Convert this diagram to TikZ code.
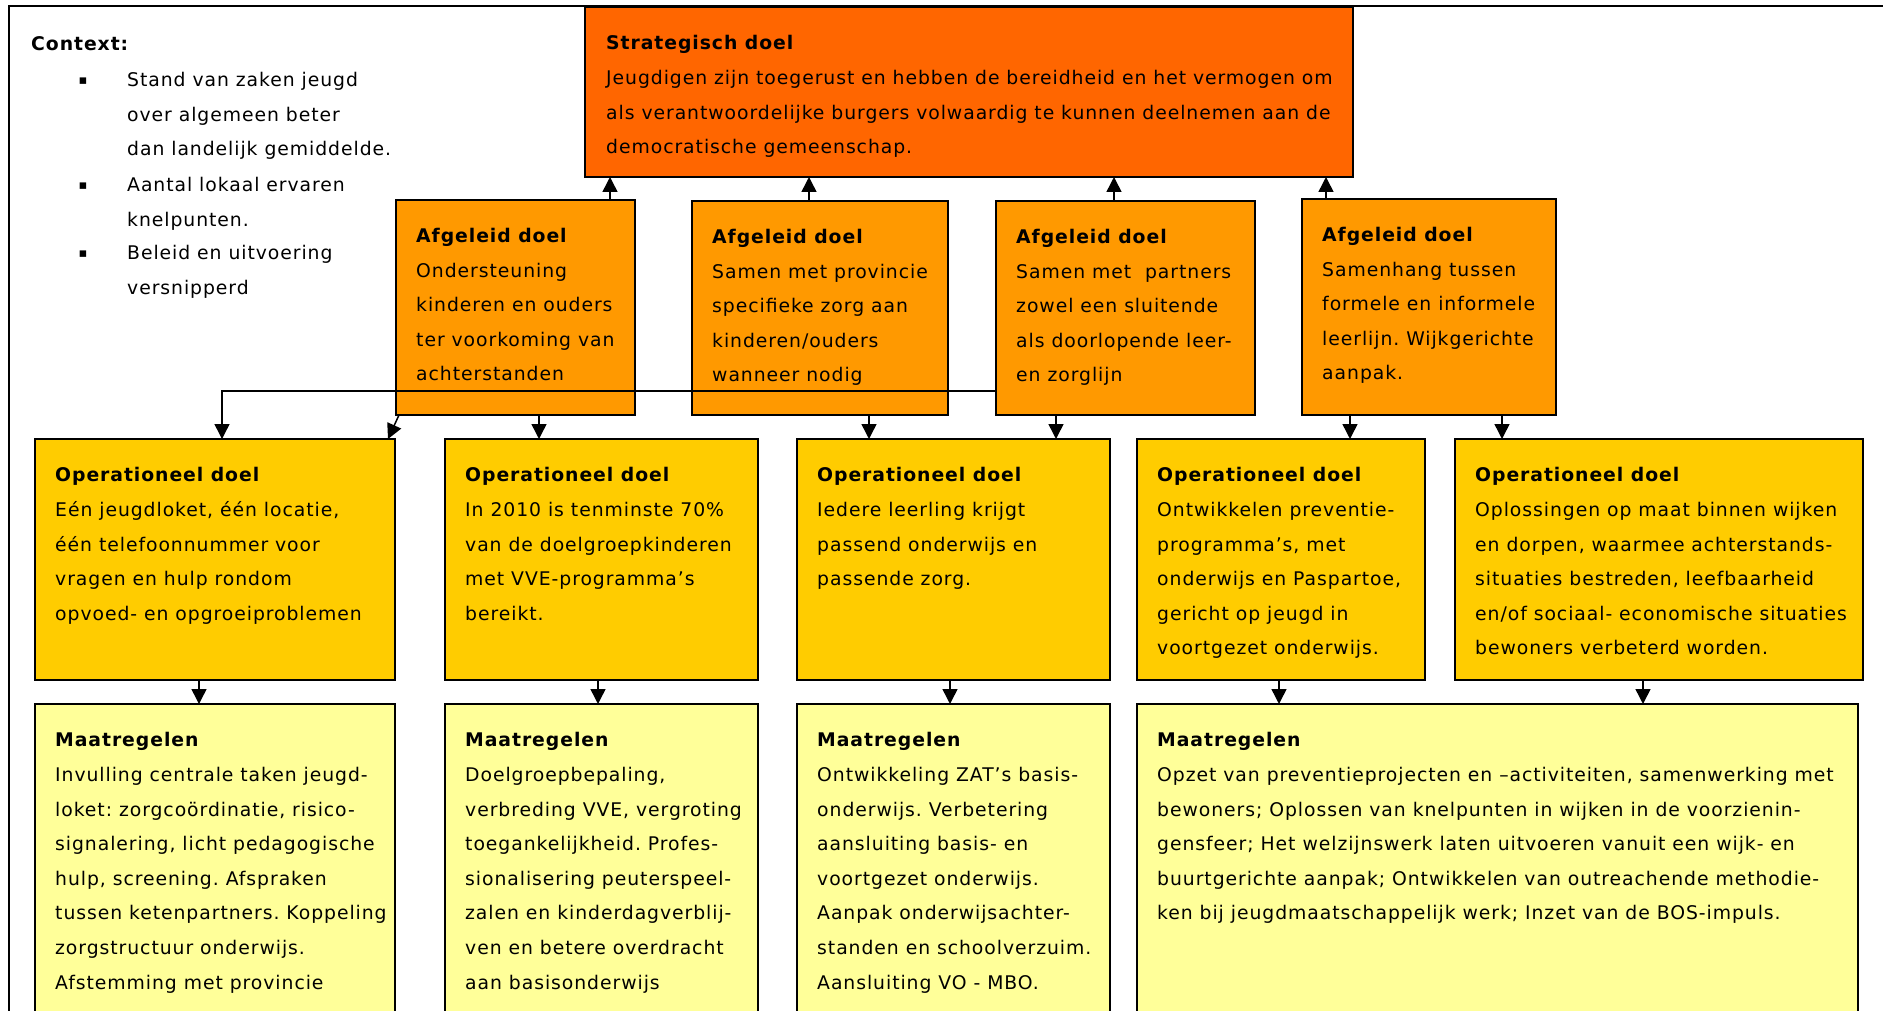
\documentclass[tikz,border=0pt]{standalone}
\usepackage{fontspec}
\setmainfont{DejaVu Sans}[LetterSpace=5]
\usetikzlibrary{arrows.meta}
\frenchspacing

\definecolor{strategisch}{HTML}{FF6600}
\definecolor{afgeleid}{HTML}{FF9900}
\definecolor{operationeel}{HTML}{FFCC00}
\definecolor{maatregel}{HTML}{FFFF99}

\tikzset{
  doos/.style={draw, line width=1.5pt, anchor=north west, inner sep=0pt, outer sep=0pt},
  tekst/.style={anchor=north west, inner sep=0pt, align=left, font=\fontsize{18.8}{34.6}\selectfont},
  pijl/.style={line width=1.5pt, -{Triangle[width=15pt,length=15pt]}}
}

\begin{document}
\begin{tikzpicture}[x=1pt, y=-1pt]
\useasboundingbox (0,0) rectangle (1883,1011);
\clip (0,0) rectangle (1883,1011);

% kader
\draw[line width=2pt] (9,1030) -- (9,6) -- (1900,6);

% Context
\node[tekst, anchor=base west] (ctx) at (31,50.5) {\bfseries Context:};
\node[tekst, anchor=base, font=\fontsize{13}{13}\selectfont] (b1) at (83,84.5) {▪};
\node[tekst, anchor=base, font=\fontsize{13}{13}\selectfont] (b2) at (83,189.5) {▪};
\node[tekst, anchor=base, font=\fontsize{13}{13}\selectfont] (b3) at (83,257.5) {▪};
\node[tekst] (c1) at (127,72) {Stand van zaken jeugd\\over algemeen beter\\dan landelijk gemiddelde.};
\node[tekst] (c2) at (127,177) {Aantal lokaal ervaren\\knelpunten.};
\node[tekst] (c3) at (127,245) {Beleid en uitvoering\\versnipperd};

% Strategisch doel
\node[doos, fill=strategisch, minimum width=768, minimum height=170] (s) at (585,7) {};
\node[tekst] (ts) at ([shift={(21,28.5)}]s.north west) {{\bfseries Strategisch doel}\\Jeugdigen zijn toegerust en hebben de bereidheid en het vermogen om\\als verantwoordelijke burgers volwaardig te kunnen deelnemen aan de\\democratische gemeenschap.};

% Afgeleide doelen
\node[doos, fill=afgeleid, minimum width=239, minimum height=215] (a1) at (396,200) {};
\node[doos, fill=afgeleid, minimum width=256, minimum height=214] (a2) at (692,201) {};
\node[doos, fill=afgeleid, minimum width=259, minimum height=214] (a3) at (996,201) {};
\node[doos, fill=afgeleid, minimum width=254, minimum height=216] (a4) at (1302,199) {};
\node[tekst] (ta1) at ([shift={(20,28)}]a1.north west) {{\bfseries Afgeleid doel}\\Ondersteuning\\kinderen en ouders\\ter voorkoming van\\achterstanden};
\node[tekst] (ta2) at ([shift={(20,28)}]a2.north west) {{\bfseries Afgeleid doel}\\Samen met provincie\\specifieke zorg aan\\kinderen/ouders\\wanneer nodig};
\node[tekst] (ta3) at ([shift={(20,28)}]a3.north west) {{\bfseries Afgeleid doel}\\Samen met\ \ partners\\zowel een sluitende\\als doorlopende leer-\\en zorglijn};
\node[tekst] (ta4) at ([shift={(20,28)}]a4.north west) {{\bfseries Afgeleid doel}\\Samenhang tussen\\formele en informele\\leerlijn. Wijkgerichte\\aanpak.};

% Operationele doelen
\node[doos, fill=operationeel, minimum width=360, minimum height=241] (o1) at (35,439) {};
\node[doos, fill=operationeel, minimum width=313, minimum height=241] (o2) at (445,439) {};
\node[doos, fill=operationeel, minimum width=313, minimum height=241] (o3) at (797,439) {};
\node[doos, fill=operationeel, minimum width=288, minimum height=241] (o4) at (1137,439) {};
\node[doos, fill=operationeel, minimum width=408, minimum height=241] (o5) at (1455,439) {};
\node[tekst] (to1) at ([shift={(20,28.5)}]o1.north west) {{\bfseries Operationeel doel}\\Eén jeugdloket, één locatie,\\één telefoonnummer voor\\vragen en hulp rondom\\opvoed- en opgroeiproblemen};
\node[tekst] (to2) at ([shift={(20,28.5)}]o2.north west) {{\bfseries Operationeel doel}\\In 2010 is tenminste 70\%\\van de doelgroepkinderen\\met VVE-programma’s\\bereikt.};
\node[tekst] (to3) at ([shift={(20,28.5)}]o3.north west) {{\bfseries Operationeel doel}\\Iedere leerling krijgt\\passend onderwijs en\\passende zorg.};
\node[tekst] (to4) at ([shift={(20,28.5)}]o4.north west) {{\bfseries Operationeel doel}\\Ontwikkelen preventie-\\programma’s, met\\onderwijs en Paspartoe,\\gericht op jeugd in\\voortgezet onderwijs.};
\node[tekst] (to5) at ([shift={(20,28.5)}]o5.north west) {{\bfseries Operationeel doel}\\Oplossingen op maat binnen wijken\\en dorpen, waarmee achterstands-\\situaties bestreden, leefbaarheid\\en/of sociaal- economische situaties\\bewoners verbeterd worden.};

% Maatregelen
\node[doos, fill=maatregel, minimum width=360, minimum height=330] (m1) at (35,704) {};
\node[doos, fill=maatregel, minimum width=313, minimum height=330] (m2) at (445,704) {};
\node[doos, fill=maatregel, minimum width=313, minimum height=330] (m3) at (797,704) {};
\node[doos, fill=maatregel, minimum width=721, minimum height=330] (m4) at (1137,704) {};
\node[tekst] (tm1) at ([shift={(20,28.5)}]m1.north west) {{\bfseries Maatregelen}\\Invulling centrale taken jeugd-\\loket: zorgcoördinatie, risico-\\signalering, licht pedagogische\\hulp, screening. Afspraken\\tussen ketenpartners. Koppeling\\zorgstructuur onderwijs.\\Afstemming met provincie};
\node[tekst] (tm2) at ([shift={(20,28.5)}]m2.north west) {{\bfseries Maatregelen}\\Doelgroepbepaling,\\verbreding VVE, vergroting\\toegankelijkheid. Profes-\\sionalisering peuterspeel-\\zalen en kinderdagverblij-\\ven en betere overdracht\\aan basisonderwijs};
\node[tekst] (tm3) at ([shift={(20,28.5)}]m3.north west) {{\bfseries Maatregelen}\\Ontwikkeling ZAT’s basis-\\onderwijs. Verbetering\\aansluiting basis- en\\voortgezet onderwijs.\\Aanpak onderwijsachter-\\standen en schoolverzuim.\\Aansluiting VO - MBO.};
\node[tekst] (tm4) at ([shift={(20,28.5)}]m4.north west) {{\bfseries Maatregelen}\\Opzet van preventieprojecten en –activiteiten, samenwerking met\\bewoners; Oplossen van knelpunten in wijken in de voorzienin-\\gensfeer; Het welzijnswerk laten uitvoeren vanuit een wijk- en\\buurtgerichte aanpak; Ontwikkelen van outreachende methodie-\\ken bij jeugdmaatschappelijk werk; Inzet van de BOS-impuls.};

% Pijlen naar het strategisch doel
\foreach \van/\x in {a1/610, a2/809, a3/1114, a4/1326} {
  \coordinate (p) at (\x,0);
  \draw[pijl] (\van.north -| p) -- (s.south -| p);
}

% Pijlen naar de operationele doelen
\foreach \van/\naar/\x in {a1/o2/539, a2/o3/869, a3/o3/1056, a4/o4/1350, a4/o5/1502} {
  \coordinate (p) at (\x,0);
  \draw[pijl] (\van.south -| p) -- (\naar.north -| p);
}
\draw[pijl] ([xshift=3pt]a1.south west) -- ([xshift=-7pt]o1.north east);
\coordinate (knik) at (222,391);
\draw[pijl] (a3.west |- knik) -- (knik) -- (o1.north -| knik);

% Pijlen naar de maatregelen
\foreach \van/\naar/\x in {o1/m1/199, o2/m2/598, o3/m3/950, o4/m4/1279, o5/m4/1643} {
  \coordinate (p) at (\x,0);
  \draw[pijl] (\van.south -| p) -- (\naar.north -| p);
}
\end{tikzpicture}
\end{document}
